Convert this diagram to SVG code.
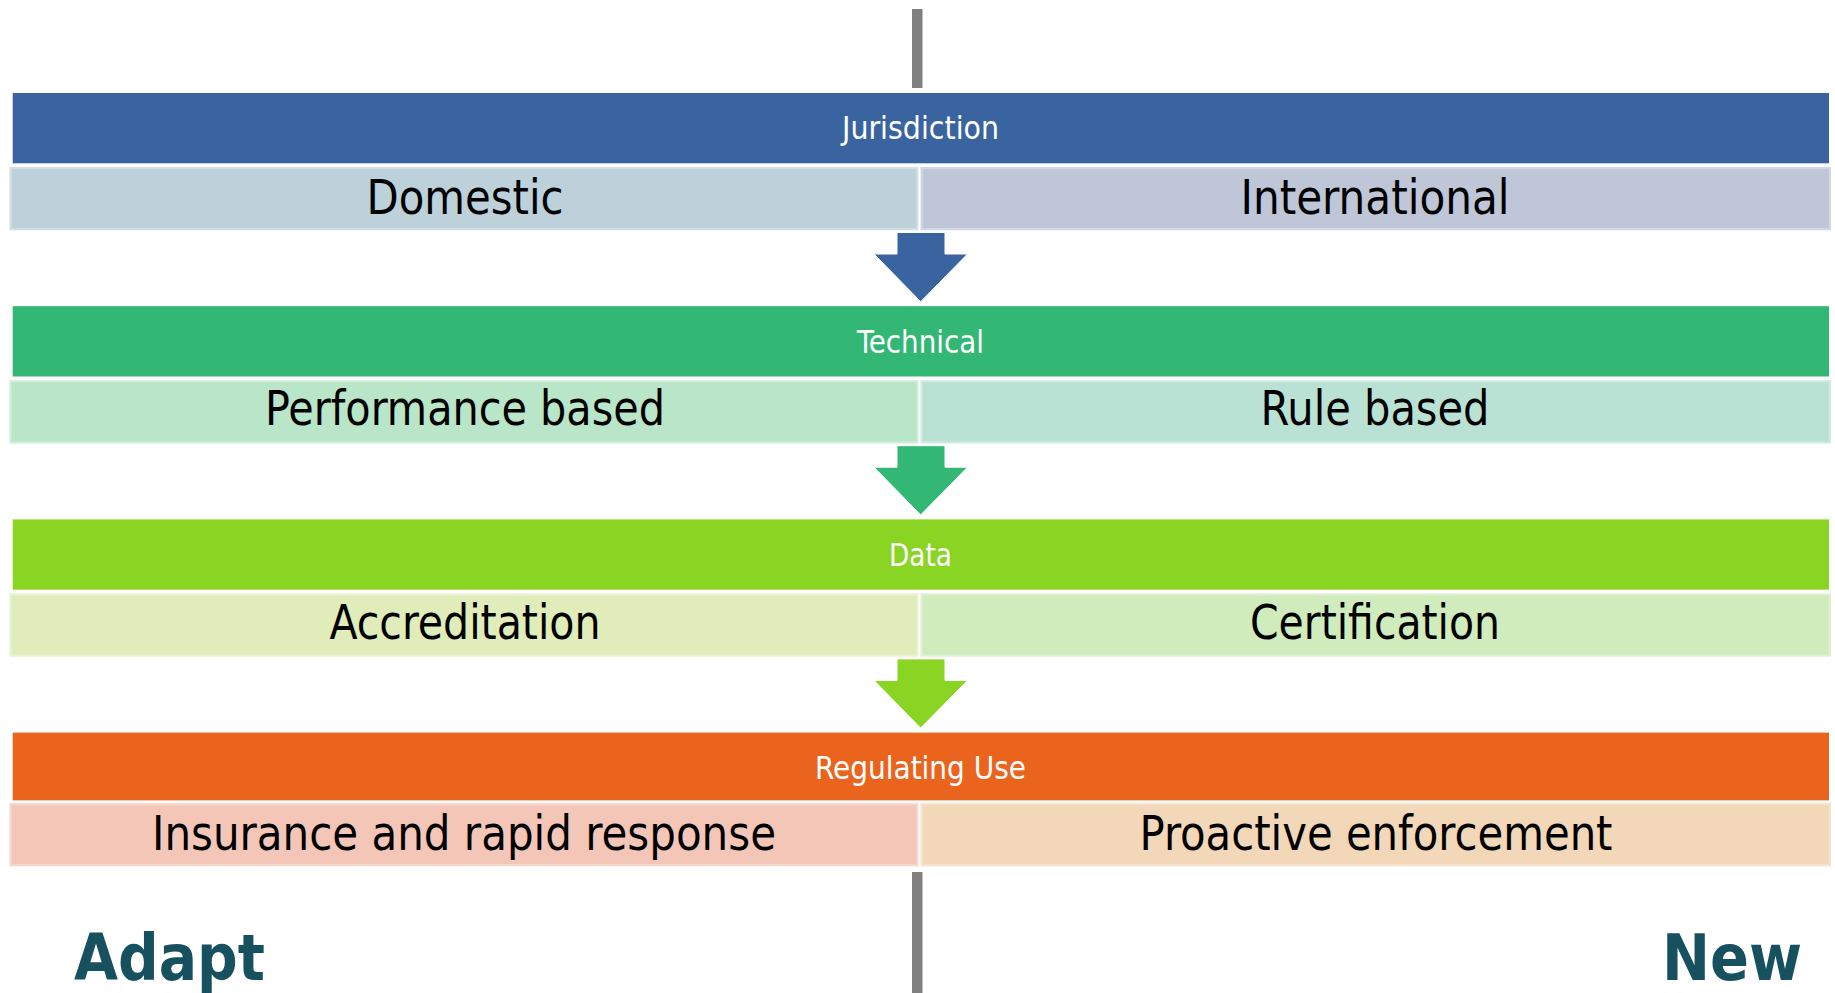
<svg xmlns="http://www.w3.org/2000/svg" width="1835" height="993" viewBox="0 0 1835 993">
<style>
.hdr{font-family:"DejaVu Sans Condensed","DejaVu Sans","Liberation Sans",sans-serif;font-size:32px;fill:#ffffff;text-anchor:middle}
.lbl{font-family:"DejaVu Sans Condensed","DejaVu Sans","Liberation Sans",sans-serif;font-size:48px;fill:#000000;text-anchor:middle}
.side{font-family:"DejaVu Sans Condensed","DejaVu Sans","Liberation Sans",sans-serif;font-size:64px;font-weight:bold;fill:#17505F}
.box{stroke:#ffffff;stroke-opacity:0.3;stroke-width:4.5}
.axis{fill:#808080}
.arrow{stroke:#ffffff;stroke-width:1}
</style>
<g id="axis">
<rect class="axis" x="912" y="9" width="10.5" height="79"/>
<rect class="axis" x="912" y="872" width="10.5" height="121"/>
</g>
<g id="connectors">
<path class="arrow" fill="#3A64A0" d="M897 232.5H945V254H967.5L920.7 301.7L874 254H897Z"/>
<path class="arrow" fill="#32B874" d="M897 445.7H945V467.2H967.5L920.7 514.9L874 467.2H897Z"/>
<path class="arrow" fill="#8AD424" d="M897 658.9H945V680.4H967.5L920.7 728.1L874 680.4H897Z"/>
</g>
<g id="jurisdiction">
<rect x="12.7" y="93" width="1816.3" height="70.3" fill="#3A64A0"/>
<text class="hdr" x="920.5" y="139" textLength="157" lengthAdjust="spacingAndGlyphs">Jurisdiction</text>
</g>
<g id="domestic">
<rect class="box" x="9.5" y="167" width="909" height="63.3" fill="#BDD1DA"/>
<text class="lbl" x="465" y="214" textLength="197" lengthAdjust="spacingAndGlyphs">Domestic</text>
</g>
<g id="international">
<rect class="box" x="920.5" y="167" width="910.5" height="63.3" fill="#BEC6D8"/>
<text class="lbl" x="1375" y="214" textLength="269" lengthAdjust="spacingAndGlyphs">International</text>
</g>
<g id="technical">
<rect x="12.7" y="306.2" width="1816.3" height="70.3" fill="#32B874"/>
<text class="hdr" x="920.5" y="353" textLength="127" lengthAdjust="spacingAndGlyphs">Technical</text>
</g>
<g id="performance-based">
<rect class="box" x="9.5" y="380.2" width="909" height="63.3" fill="#B9E5C9"/>
<text class="lbl" x="465" y="425" textLength="400" lengthAdjust="spacingAndGlyphs">Performance based</text>
</g>
<g id="rule-based">
<rect class="box" x="920.5" y="380.2" width="910.5" height="63.3" fill="#BAE2D4"/>
<text class="lbl" x="1375" y="425" textLength="229" lengthAdjust="spacingAndGlyphs">Rule based</text>
</g>
<g id="data">
<rect x="12.7" y="519.4" width="1816.3" height="70.3" fill="#8AD424"/>
<text class="hdr" x="920.5" y="565.7" textLength="63" lengthAdjust="spacingAndGlyphs">Data</text>
</g>
<g id="accreditation">
<rect class="box" x="9.5" y="593.4" width="909" height="63.3" fill="#E0ECBA"/>
<text class="lbl" x="465" y="639" textLength="271" lengthAdjust="spacingAndGlyphs">Accreditation</text>
</g>
<g id="certification">
<rect class="box" x="920.5" y="593.4" width="910.5" height="63.3" fill="#D0EBBC"/>
<text class="lbl" x="1375" y="639" textLength="250" lengthAdjust="spacingAndGlyphs">Certification</text>
</g>
<g id="regulating-use">
<rect x="12.7" y="732.6" width="1816.3" height="67.8" fill="#EA641E"/>
<text class="hdr" x="920.5" y="779" textLength="211" lengthAdjust="spacingAndGlyphs">Regulating Use</text>
</g>
<g id="insurance">
<rect class="box" x="9.5" y="803" width="909" height="63.3" fill="#F4C6B8"/>
<text class="lbl" x="464" y="850" textLength="624" lengthAdjust="spacingAndGlyphs">Insurance and rapid response</text>
</g>
<g id="proactive">
<rect class="box" x="920.5" y="803" width="910.5" height="63.3" fill="#F2D7B8"/>
<text class="lbl" x="1376" y="850" textLength="473" lengthAdjust="spacingAndGlyphs">Proactive enforcement</text>
</g>
<g id="adapt">
<text class="side" x="74" y="980" textLength="191" lengthAdjust="spacingAndGlyphs">Adapt</text>
</g>
<g id="new">
<text class="side" x="1662" y="980" textLength="140" lengthAdjust="spacingAndGlyphs">New</text>
</g>
</svg>
